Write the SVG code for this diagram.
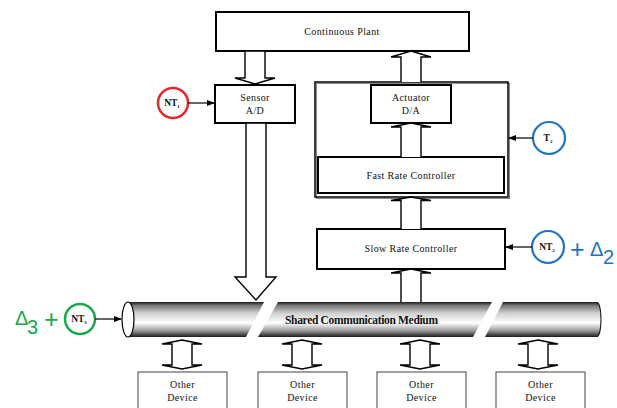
<svg xmlns="http://www.w3.org/2000/svg" width="617" height="408" viewBox="0 0 617 408">
<style>
.box{fill:#fff;stroke:#000;stroke-width:2}
.dev{fill:#fff;stroke:#444;stroke-width:1}
.arr{fill:#fff;stroke:#000;stroke-width:1.4;stroke-linejoin:miter}
.t{font-family:"Liberation Serif",serif;font-size:10px;letter-spacing:0.4px;fill:#111;text-anchor:middle}
.nt{font-family:"Liberation Serif",serif;font-size:9.5px;font-weight:bold;fill:#111;text-anchor:middle}
.sub{font-size:5px}
.ln{stroke:#000;stroke-width:1.2;fill:none}
.delta{font-family:"Liberation Sans",sans-serif;font-size:20px}
.plus{font-size:25px}
</style>
<defs>
<linearGradient id="cyl" x1="0" y1="0" x2="0" y2="1">
<stop offset="0" stop-color="#1a1a1a"/>
<stop offset="0.1" stop-color="#777"/>
<stop offset="0.32" stop-color="#d0d0d0"/>
<stop offset="0.6" stop-color="#fff"/>
<stop offset="0.82" stop-color="#999"/>
<stop offset="1" stop-color="#1a1a1a"/>
</linearGradient>
<marker id="ah" markerWidth="8" markerHeight="6" refX="7" refY="3" orient="auto" markerUnits="userSpaceOnUse">
<path d="M0,0 L8,3 L0,6 Z" fill="#000"/>
</marker>
</defs>

<g id="plant">
<rect class="box" x="216" y="12" width="253" height="39"/>
<text class="t" x="342" y="35">Continuous Plant</text>
</g>

<g id="fast-loop">
<rect x="316.5" y="83.5" width="193" height="115" fill="none" stroke="#888" stroke-width="1"/>
<rect x="315" y="82" width="193" height="115" fill="none" stroke="#000" stroke-width="1.5"/>
</g>

<g id="sensor">
<rect class="box" x="215" y="85" width="80" height="38"/>
<text class="t" x="255" y="101">Sensor</text>
<text class="t" x="255" y="114">A/D</text>
</g>

<g id="actuator">
<rect class="box" x="371" y="85" width="80" height="38"/>
<text class="t" x="411" y="101">Actuator</text>
<text class="t" x="411" y="114">D/A</text>
</g>

<g id="fast-rate-controller">
<rect class="box" x="318" y="157" width="186" height="36"/>
<text class="t" x="411" y="179">Fast Rate Controller</text>
</g>

<g id="slow-rate-controller">
<rect class="box" x="317" y="229" width="188" height="40"/>
<text class="t" x="411" y="252">Slow Rate Controller</text>
</g>

<g id="nt1">
<circle cx="173" cy="103" r="15" fill="#fff" stroke="#e8252a" stroke-width="2.5"/>
<text class="nt" x="172" y="106">NT<tspan class="sub" dy="2">1</tspan></text>
</g>

<g id="t2">
<circle cx="549" cy="138" r="16" fill="#fff" stroke="#1f74c0" stroke-width="2.2"/>
<text class="nt" x="548" y="141">T<tspan class="sub" dy="2">2</tspan></text>
</g>

<g id="nt2">
<circle cx="548" cy="247" r="16" fill="#fff" stroke="#1f74c0" stroke-width="2.2"/>
<text class="nt" x="547" y="250">NT<tspan class="sub" dy="2">2</tspan></text>
<text class="delta" fill="#1f74c0"><tspan class="plus" x="570" y="258">+</tspan><tspan x="590" y="256">Δ</tspan><tspan x="603" y="264">2</tspan></text>
</g>

<g id="nt3">
<circle cx="80" cy="319" r="15" fill="#fff" stroke="#17a94f" stroke-width="2.5"/>
<text class="nt" x="79" y="322">NT<tspan class="sub" dy="2">3</tspan></text>
<text class="delta" fill="#17a94f"><tspan x="15" y="325">Δ</tspan><tspan x="27" y="334">3</tspan><tspan class="plus" x="44" y="328">+</tspan></text>
</g>

<g id="medium">
<path d="M128,302 L264,302 L246,337 L128,337 Z" fill="url(#cyl)"/>
<path d="M278,302 L492,302 L473,337 L258,337 Z" fill="url(#cyl)"/>
<path d="M503,302 L597,302 A4,17.5 0 0 1 597,337 L485,337 Z" fill="url(#cyl)"/>
<path d="M597,302 A4,17.5 0 0 1 597,337" fill="none" stroke="#000" stroke-width="1"/>
<ellipse cx="128" cy="319.5" rx="6" ry="17.5" fill="#fff" stroke="#000" stroke-width="1.2"/>
<text x="285" y="323.5" font-family="Liberation Serif,serif" font-size="11.5" font-weight="bold" fill="#111" textLength="153" lengthAdjust="spacing">Shared Communication Medium</text>
</g>

<g id="device1">
<rect class="dev" x="138" y="372" width="89" height="40"/>
<text class="t" x="182.5" y="388">Other</text>
<text class="t" x="182.5" y="401">Device</text>
</g>
<g id="device2">
<rect class="dev" x="258" y="372" width="89" height="40"/>
<text class="t" x="302.5" y="388">Other</text>
<text class="t" x="302.5" y="401">Device</text>
</g>
<g id="device3">
<rect class="dev" x="377" y="372" width="89" height="40"/>
<text class="t" x="421.5" y="388">Other</text>
<text class="t" x="421.5" y="401">Device</text>
</g>
<g id="device4">
<rect class="dev" x="496" y="372" width="89" height="40"/>
<text class="t" x="540.5" y="388">Other</text>
<text class="t" x="540.5" y="401">Device</text>
</g>

<g id="connectors">
<path class="arr" d="M245,51 L265,51 L265,78 L275,78 L255,84 L235,78 L245,78 Z"/>
<path class="arr" d="M401,82 L401,57 L391,57 L411,51 L431,57 L421,57 L421,82"/>
<path class="arr" d="M401,157 L401,127 L391,127 L411,123 L431,127 L421,127 L421,157"/>
<path class="arr" d="M401,229 L401,200.5 L391,200.5 L411,197 L431,200.5 L421,200.5 L421,229"/>
<path class="arr" d="M401,302 L401,273 L391,273 L411,269 L431,273 L421,273 L421,302"/>
<path class="arr" d="M246,123 L266,123 L266,277 L276,277 L256,300 L235,277 L246,277 Z"/>
<path class="arr" d="M182,340 L202,344 L192,344 L192,365 L202,365 L182,369 L162,365 L172,365 L172,344 L162,344 Z"/>
<path class="arr" d="M302,340 L322,344 L312,344 L312,365 L322,365 L302,369 L282,365 L292,365 L292,344 L282,344 Z"/>
<path class="arr" d="M420,340 L440,344 L430,344 L430,365 L440,365 L420,369 L400,365 L410,365 L410,344 L400,344 Z"/>
<path class="arr" d="M538,340 L558,344 L548,344 L548,365 L558,365 L538,369 L518,365 L528,365 L528,344 L518,344 Z"/>
<line class="ln" x1="188" y1="103" x2="214" y2="103" marker-end="url(#ah)"/>
<line class="ln" x1="533" y1="138" x2="509" y2="138" marker-end="url(#ah)"/>
<line class="ln" x1="532" y1="247" x2="506" y2="247" marker-end="url(#ah)"/>
<line class="ln" x1="95" y1="319" x2="121" y2="319" marker-end="url(#ah)"/>
</g>
</svg>
